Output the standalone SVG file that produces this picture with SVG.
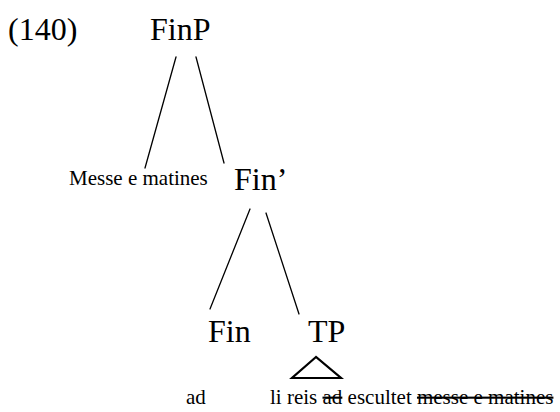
<svg xmlns="http://www.w3.org/2000/svg" width="560" height="412" viewBox="0 0 560 412">
  <style>
    .big { font-family: "Liberation Serif", "Times New Roman", serif; font-size: 32px; fill: #000; }
    .small { font-family: "Liberation Serif", "Times New Roman", serif; font-size: 21px; fill: #000; }
    .edge { stroke: #000; stroke-width: 1.3; fill: none; stroke-linecap: round; }
    .tri { stroke: #000; stroke-width: 2.2; fill: none; stroke-linejoin: miter; }
    .del { text-decoration: line-through; }
  </style>
  <rect width="560" height="412" fill="#fff"/>
  <text id="ex-number" class="big" x="8" y="40">(140)</text>

  <g id="connectors">
    <line class="edge" x1="176" y1="57" x2="145" y2="168"/>
    <line class="edge" x1="196" y1="57" x2="224" y2="163"/>
    <line class="edge" x1="250" y1="209" x2="210" y2="309"/>
    <line class="edge" x1="266" y1="213" x2="299" y2="314"/>
    <polygon class="tri" points="316,357 292,378 341,378"/>
  </g>

  <g id="node-FinP"><text class="big" x="150" y="40">FinP</text></g>
  <g id="node-spec"><text class="small" x="69" y="185">Messe e matines</text></g>
  <g id="node-FinBar"><text class="big" x="234" y="190">Fin’</text></g>
  <g id="node-Fin"><text class="big" x="208" y="342">Fin</text></g>
  <g id="node-TP"><text class="big" x="308" y="342">TP</text></g>
  <g id="leaf-Fin"><text class="small" x="186" y="404">ad</text></g>
  <g id="leaf-TP"><text class="small" x="270" y="404">li reis <tspan class="del">ad</tspan> escultet <tspan class="del">messe e matines</tspan></text></g>
</svg>
